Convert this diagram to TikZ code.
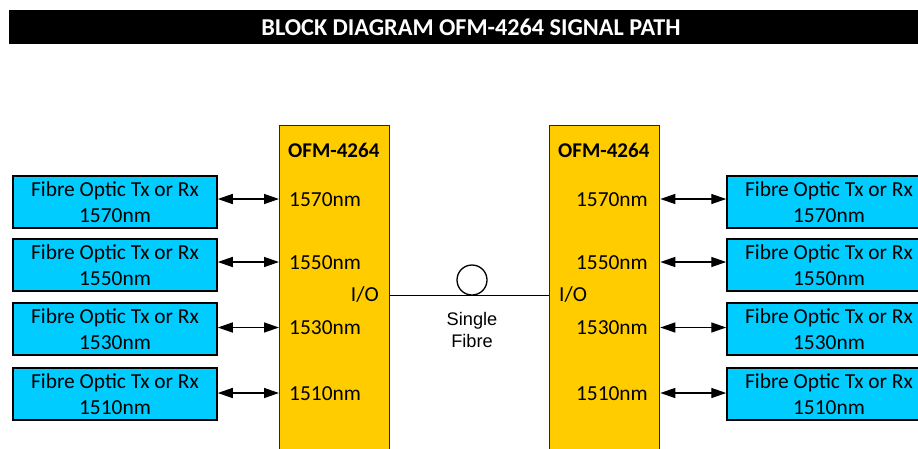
\documentclass[tikz,border=0pt]{standalone}
\usepackage{fontspec}
\setmainfont{Carlito}
\newfontfamily\arialf{Liberation Sans}
\usetikzlibrary{arrows.meta}
\definecolor{fcyan}{HTML}{00CCFF}
\definecolor{fyellow}{HTML}{FFCC00}
\tikzset{
  fobox/.style={draw=black, line width=1.5pt, fill=fcyan, minimum width=204pt, minimum height=52pt,
    inner sep=0pt, align=center, font=\fontsize{21.4}{26}\selectfont},
  block/.style={draw=black!85, line width=1.3pt, fill=fyellow, minimum width=110pt, minimum height=340pt,
    inner sep=0pt, anchor=north west},
  lbl/.style={inner sep=0pt, font=\fontsize{21.4}{26}\selectfont},
  blbl/.style={inner sep=0pt, font=\bfseries\fontsize{21}{25}\selectfont},
  link/.style={line width=1.4pt, {Triangle[length=15pt,width=10pt]}-{Triangle[length=15pt,width=10pt]}},
}
\begin{document}
\begin{tikzpicture}[x=1pt,y=-1pt]
\useasboundingbox (0,0) rectangle (918,448);
\clip (0,0) rectangle (918,448);
\fill[white] (0,0) rectangle (918,448);
% title
\fill[black] (9,10) rectangle (930,44);
\node[text=white, inner sep=0pt, font=\bfseries\fontsize{24.2}{29}\selectfont] (title) at (471,27.5) {BLOCK DIAGRAM OFM-4264 SIGNAL PATH};
% blocks
\node[block] (A) at (279,125) {};
\node[block] (B) at (549,125) {};
\node[blbl, anchor=west] (At) at (288,150) {OFM-4264};
\node[blbl, anchor=west] (Bt) at (558,150) {OFM-4264};
% left boxes
\node[fobox] (L1) at (115,202) {Fibre Optic Tx or Rx\\1570nm};
\node[fobox] (L2) at (115,265) {Fibre Optic Tx or Rx\\1550nm};
\node[fobox] (L3) at (115,329) {Fibre Optic Tx or Rx\\1530nm};
\node[fobox] (L4) at (115,394) {Fibre Optic Tx or Rx\\1510nm};
% right boxes
\node[fobox] (R1) at (829,202) {Fibre Optic Tx or Rx\\1570nm};
\node[fobox] (R2) at (829,265) {Fibre Optic Tx or Rx\\1550nm};
\node[fobox] (R3) at (829,329) {Fibre Optic Tx or Rx\\1530nm};
\node[fobox] (R4) at (829,394) {Fibre Optic Tx or Rx\\1510nm};
% wavelength labels
\node[lbl, anchor=west] (a1) at (289,199.5) {1570nm};
\node[lbl, anchor=west] (a2) at (289,262.5) {1550nm};
\node[lbl, anchor=west] (a3) at (289,327.5) {1530nm};
\node[lbl, anchor=west] (a4) at (289,393.5) {1510nm};
\node[lbl, anchor=east] (b1) at (648,199.5) {1570nm};
\node[lbl, anchor=east] (b2) at (648,262.5) {1550nm};
\node[lbl, anchor=east] (b3) at (648,327.5) {1530nm};
\node[lbl, anchor=east] (b4) at (648,393.5) {1510nm};
\node[lbl, anchor=east] (aio) at (379,295) {I/O};
\node[lbl, anchor=west] (bio) at (559,295) {I/O};
% arrows
\foreach \i/\y in {1/199,2/262,3/327.5,4/393}{
  \coordinate (yl\i) at (0,\y);
  \draw[link] (L\i.east |- yl\i) -- (A.west |- yl\i);
  \draw[link] (B.east |- yl\i) -- (R\i.west |- yl\i);
}
% fibre
\coordinate (fib) at (0,295.5);
\draw[line width=1.3pt] (A.east |- fib) -- (B.west |- fib);
\node[circle, draw, line width=1.3pt, minimum size=30pt, inner sep=0pt] (loop) at (472,280) {};
\node[inner sep=0pt, align=center, font=\arialf\fontsize{18.2}{22}\selectfont] (sf) at (472,330) {Single\\Fibre};
\end{tikzpicture}
\end{document}
